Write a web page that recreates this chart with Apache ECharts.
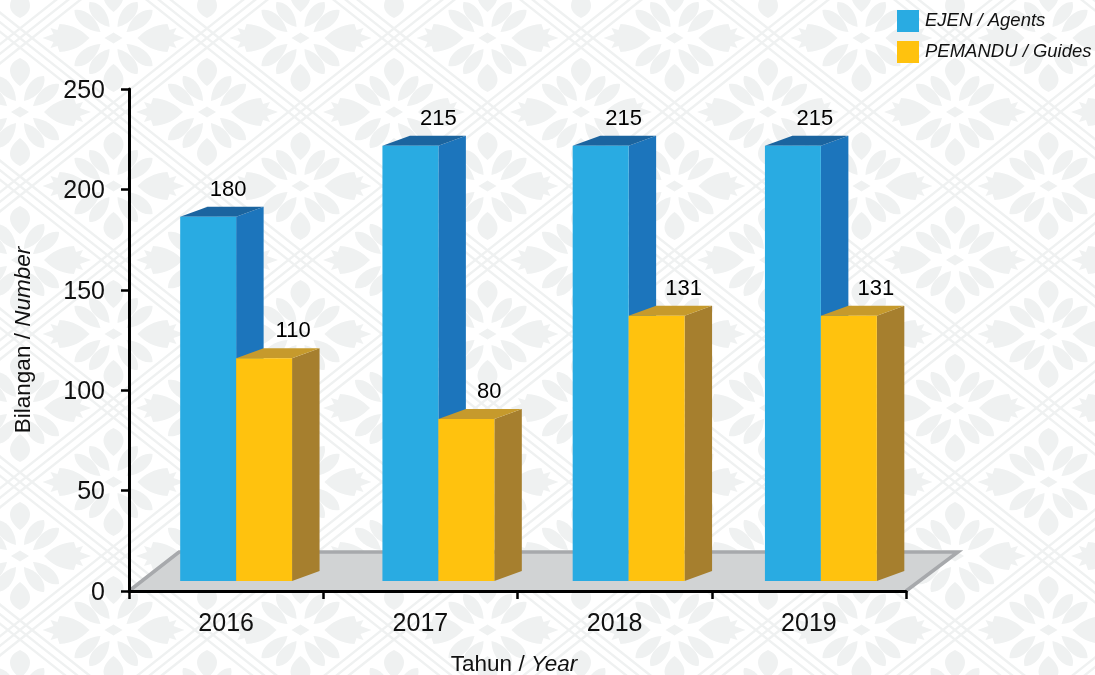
<!DOCTYPE html>
<html><head><meta charset="utf-8">
<style>html,body{margin:0;padding:0;background:#fff}#c{width:1095px;height:675px}</style>
<script src="https://cdn.jsdelivr.net/npm/echarts@6/dist/echarts.min.js"></script>
</head><body><div id="c"></div>
<script>
const categories = ['2016', '2017', '2018', '2019'];
const agents = [180, 215, 215, 215];
const guides = [110, 80, 131, 131];
const yTicks = { min: 0, max: 250, interval: 50 };
const agentsName = 'EJEN / Agents';
const guidesName = 'PEMANDU / Guides';

// layout constants (not data)
const DEPTH = [27.5, -10];
const FLOOR_DEPTH = [52, -40];
const SLOT_NUDGE = [0, 8, 4, 2];
const LABEL_DX_AGENTS = [20, 28, 23, 22];
const LABEL_DX_GUIDES = [29, 23, 27, 27];
const BAR_FRACTION = 0.288;
const FONT = '"Liberation Sans", Arial, sans-serif';

function makeTile() {
  const W = 187, H = 148, cv = document.createElement('canvas');
  cv.width = W; cv.height = H;
  const g = cv.getContext('2d');
  g.fillStyle = '#ffffff'; g.fillRect(0, 0, W, H);
  g.strokeStyle = '#eff1f1'; g.fillStyle = '#eff1f1'; g.lineCap = 'butt';
  const slope = (H / 2) / (W / 2), perpV = Math.hypot(W / 2, H / 2) / (W / 2);
  function band(dir) {
    [-7.5, 0, 7.5].forEach(function (o) {
      g.lineWidth = 2.4;
      for (let k = -4; k <= 4; k++) {
        const c = 38 + k * H + o * perpV;
        g.beginPath();
        g.moveTo(20 - 400, c - dir * 400 * slope);
        g.lineTo(20 + 400, c + dir * 400 * slope);
        g.stroke();
      }
    });
  }
  band(1); band(-1);
  function lens(x0, y0, x1, y1, w) {
    const dx = x1 - x0, dy = y1 - y0, L = Math.hypot(dx, dy), nx = -dy / L, ny = dx / L, k = w * 1.33;
    const a = function (t, s) { return [x0 + dx * t + nx * k * s, y0 + dy * t + ny * k * s]; };
    const p1 = a(0.35, 1), p2 = a(0.8, 1), p3 = a(0.8, -1), p4 = a(0.35, -1);
    g.beginPath(); g.moveTo(x0, y0);
    g.bezierCurveTo(p1[0], p1[1], p2[0], p2[1], x1, y1);
    g.bezierCurveTo(p3[0], p3[1], p4[0], p4[1], x0, y0);
    g.fill();
  }
  function jagged(cx, cy, s) {
    g.beginPath();
    g.moveTo(cx + s * 24, cy);
    g.bezierCurveTo(cx + s * 32, cy - 8, cx + s * 40, cy - 13, cx + s * 54, cy - 14);
    g.lineTo(cx + s * 56, cy - 8);
    g.lineTo(cx + s * 63, cy - 10);
    g.lineTo(cx + s * 60, cy - 4);
    g.lineTo(cx + s * 71, cy);
    g.lineTo(cx + s * 60, cy + 4);
    g.lineTo(cx + s * 63, cy + 10);
    g.lineTo(cx + s * 56, cy + 8);
    g.lineTo(cx + s * 54, cy + 14);
    g.bezierCurveTo(cx + s * 40, cy + 13, cx + s * 32, cy + 8, cx + s * 24, cy);
    g.fill();
  }
  function flower(cx, cy) {
    g.beginPath();
    g.moveTo(cx - 9, cy); g.lineTo(cx, cy - 5.5); g.lineTo(cx + 9, cy); g.lineTo(cx, cy + 5.5);
    g.closePath(); g.fill();
    jagged(cx, cy, 1); jagged(cx, cy, -1);
    [-1, 1].forEach(function (s) { lens(cx, cy + s * 26, cx, cy + s * 54, 10); });
    [[1, 1], [1, -1], [-1, 1], [-1, -1]].forEach(function (q) {
      lens(cx + q[0] * 4, cy + q[1] * 11, cx + q[0] * 24, cy + q[1] * 36, 6.5);
      lens(cx + q[0] * 13, cy + q[1] * 6, cx + q[0] * 39, cy + q[1] * 28, 6.5);
    });
  }
  for (let i = -1; i <= 1; i++) for (let j = -1; j <= 1; j++) {
    flower(113.5 + i * W, 38 + j * H);
    flower(20 + i * W, 112 + j * H);
  }
  return cv;
}

function polygon(points, fill) {
  return { type: 'polygon', shape: { points: points }, style: { fill: fill }, silent: true };
}

function barRender(colors) {
  return function (params, api) {
    const i = api.value(0), v = api.value(1);
    const slot = api.size([1, 0])[0], w = slot * BAR_FRACTION;
    const pt = api.coord([i, v]), base = api.coord([i, 0]);
    const x0 = pt[0] + SLOT_NUDGE[i] + (colors.first ? -w : 0), x1 = x0 + w, yT = pt[1], yB = base[1];
    const dx = DEPTH[0], dy = DEPTH[1];
    return {
      type: 'group',
      children: [
        polygon([[x1, yB], [x1 + dx, yB + dy], [x1 + dx, yT + dy], [x1, yT]], colors.side),
        polygon([[x0, yT], [x0 + dx, yT + dy], [x1 + dx, yT + dy], [x1, yT]], colors.top),
        { type: 'rect', shape: { x: x0, y: yT, width: x1 - x0, height: yB - yT }, style: { fill: colors.front } },
        { type: 'text', x: (x0 + x1) / 2 + colors.labelDx[i], y: yT - 27,
          style: { text: String(v), fill: '#000', font: '22px ' + FONT, align: 'center', verticalAlign: 'middle' } }
      ]
    };
  };
}

function floorRender(params, api) {
  const cs = params.coordSys;
  const xL = cs.x, xR = cs.x + cs.width, yB = cs.y + cs.height;
  const dx = FLOOR_DEPTH[0], dy = FLOOR_DEPTH[1];
  return {
    type: 'group',
    children: [
      { type: 'polygon', shape: { points: [[xL, yB], [xL + dx - 2, yB + dy], [xR + dx, yB + dy], [xR, yB]] },
        style: { fill: '#d1d3d4' } },
      { type: 'polyline', shape: { points: [[xL, yB], [xL + dx - 2, yB + dy + 1], [xR + dx, yB + dy + 1], [xR, yB]] },
        style: { fill: 'none', stroke: '#a7a9ac', lineWidth: 3.5 } }
    ]
  };
}

const axisLine = { lineStyle: { color: '#000', width: 3 } };
const axisTick = { show: true, alignWithLabel: false, length: 8, lineStyle: { color: '#000', width: 2.5 } };
const titleRich = {
  r: { fontFamily: FONT, fontSize: 22.5, color: '#111' },
  i: { fontFamily: FONT, fontSize: 22.5, color: '#111', fontStyle: 'italic' }
};

const chart = echarts.init(document.getElementById('c'), null, { renderer: 'canvas', width: 1095, height: 675 });
chart.setOption({
  animation: false,
  backgroundColor: { image: makeTile(), repeat: 'repeat' },
  color: ['#29abe2', '#ffc20e'],
  legend: {
    left: 897, top: 10, padding: 0, orient: 'vertical', itemWidth: 22, itemHeight: 22, itemGap: 9,
    icon: 'rect', selectedMode: false,
    data: [agentsName, guidesName],
    textStyle: { fontFamily: FONT, fontStyle: 'italic', fontSize: 18.5, color: '#111', padding: [0, 0, 0, 1] }
  },
  grid: [
    { left: 129, top: 89, width: 777, height: 502, outerBoundsMode: 'none' },
    { left: 139, top: 75, width: 777, height: 506, outerBoundsMode: 'none' }
  ],
  xAxis: [
    { type: 'category', gridIndex: 0, data: categories, z: 5,
      axisLine: axisLine, axisTick: axisTick,
      axisLabel: { margin: 21, color: '#111', fontFamily: FONT, fontSize: 25 },
      name: '{r|Tahun / }{i|Year}', nameLocation: 'middle', nameGap: 62,
      nameTextStyle: { rich: titleRich, padding: [0, 7, 0, 0] } },
    { type: 'category', gridIndex: 1, data: categories, show: false }
  ],
  yAxis: [
    { type: 'value', gridIndex: 0, min: yTicks.min, max: yTicks.max, interval: yTicks.interval, z: 5,
      axisLine: Object.assign({ show: true }, axisLine), axisTick: axisTick, splitLine: { show: false },
      axisLabel: { margin: 24, color: '#111', fontFamily: FONT, fontSize: 25,
        formatter: '{a|{value}}', rich: { a: { fontFamily: FONT, fontSize: 25, color: '#111', padding: [4, 0, 0, 0] } } },
      name: '{r|Bilangan / }{i|Number}', nameLocation: 'middle', nameGap: 87, nameRotate: 90,
      nameTextStyle: { rich: titleRich, padding: [0, 0, 7, 0] } },
    { type: 'value', gridIndex: 1, min: yTicks.min, max: yTicks.max, interval: yTicks.interval, show: false }
  ],
  series: [
    { type: 'custom', name: 'floor', xAxisIndex: 0, yAxisIndex: 0, z: 1, silent: true, clip: false,
      renderItem: floorRender, data: [[0, 0]] },
    { type: 'custom', name: agentsName, xAxisIndex: 1, yAxisIndex: 1, z: 2, clip: false,
      itemStyle: { color: '#29abe2' },
      renderItem: barRender({ front: '#29abe2', side: '#1c75bc', top: '#1b649f', first: true, labelDx: LABEL_DX_AGENTS }),
      data: agents.map(function (v, i) { return [i, v]; }) },
    { type: 'custom', name: guidesName, xAxisIndex: 1, yAxisIndex: 1, z: 3, clip: false,
      itemStyle: { color: '#ffc20e' },
      renderItem: barRender({ front: '#ffc20e', side: '#a67f2e', top: '#c69a2c', first: false, labelDx: LABEL_DX_GUIDES }),
      data: guides.map(function (v, i) { return [i, v]; }) }
  ]
});
</script></body></html>
